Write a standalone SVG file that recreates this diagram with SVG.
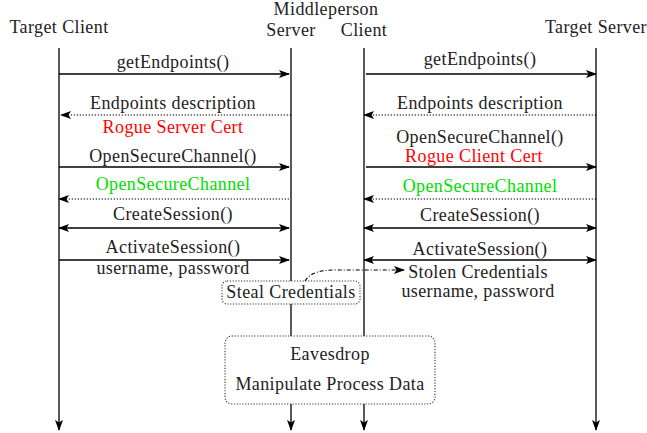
<svg xmlns="http://www.w3.org/2000/svg" width="647" height="433" viewBox="0 0 647 433" font-family="Liberation Serif, Times New Roman, serif">
<defs>
<style>
text{font-size:18px;letter-spacing:0.4px;fill:#222;text-anchor:middle}
.red{fill:#ff0000}
.green{fill:#00dd00}
.ln{stroke:#000;stroke-width:1.3;fill:none}
.dot{stroke:#000;stroke-width:1.2;fill:none;stroke-dasharray:1.3,1.7}
.box{stroke:#333;stroke-width:1.1;fill:#fff;stroke-dasharray:1.2,1.6}
.dd{stroke:#000;stroke-width:1.1;fill:none;stroke-dasharray:4,2,1,2}
</style>
<marker id="ah" markerUnits="userSpaceOnUse" markerWidth="12" markerHeight="10" refX="10" refY="4" orient="auto-start-reverse" viewBox="0 0 12 10">
<path d="M0,0 L11,4 L0,8 L2.5,4 z" fill="#000"/>
</marker>
</defs>

<g id="lifelines">
<g id="target-client">
<text x="59" y="33">Target Client</text>
<line class="ln" x1="59" y1="48" x2="59" y2="430" marker-end="url(#ah)"/>
</g>
<g id="middleperson">
<text x="326" y="15">Middleperson</text>
<text x="291" y="36">Server</text>
<text x="364" y="36">Client</text>
<line class="ln" x1="291" y1="48" x2="291" y2="281"/>
<line class="ln" x1="291" y1="304" x2="291" y2="336"/>
<line class="ln" x1="291" y1="404" x2="291" y2="430" marker-end="url(#ah)"/>
<line class="ln" x1="364" y1="48" x2="364" y2="336"/>
<line class="ln" x1="364" y1="404" x2="364" y2="430" marker-end="url(#ah)"/>
</g>
<g id="target-server">
<text x="596" y="33">Target Server</text>
<line class="ln" x1="596" y1="48" x2="596" y2="430" marker-end="url(#ah)"/>
</g>
</g>

<g id="connectors">
<line class="ln" x1="59" y1="74" x2="289" y2="74" marker-end="url(#ah)"/>
<line class="dot" x1="291" y1="115" x2="61" y2="115" marker-end="url(#ah)"/>
<line class="ln" x1="59" y1="167" x2="289" y2="167" marker-end="url(#ah)"/>
<line class="dot" x1="289" y1="199" x2="59" y2="199" marker-end="url(#ah)"/>
<line class="ln" x1="59" y1="228" x2="289" y2="228" marker-start="url(#ah)" marker-end="url(#ah)"/>
<line class="ln" x1="59" y1="260" x2="289" y2="260" marker-end="url(#ah)"/>

<line class="ln" x1="366" y1="74" x2="596" y2="74" marker-end="url(#ah)"/>
<line class="dot" x1="596" y1="115" x2="364" y2="115" marker-end="url(#ah)"/>
<line class="ln" x1="366" y1="167" x2="596" y2="167" marker-end="url(#ah)"/>
<line class="dot" x1="596" y1="199" x2="364" y2="199" marker-end="url(#ah)"/>
<line class="ln" x1="364" y1="228" x2="596" y2="228" marker-start="url(#ah)" marker-end="url(#ah)"/>
<line class="ln" x1="364" y1="260" x2="596" y2="260" marker-start="url(#ah)" marker-end="url(#ah)"/>

<path class="dd" d="M305,281 C310,273 320,270 336,270 L404,270" marker-end="url(#ah)"/>
</g>

<g id="labels-left">
<text x="173" y="68">getEndpoints()</text>
<text x="173" y="109">Endpoints description</text>
<text class="red" x="173" y="133">Rogue Server Cert</text>
<text x="173" y="162">OpenSecureChannel()</text>
<text class="green" x="173" y="190">OpenSecureChannel</text>
<text x="173" y="220">CreateSession()</text>
<text x="173" y="253">ActivateSession()</text>
<text x="173" y="274">username, password</text>
</g>

<g id="labels-right">
<text x="480" y="65">getEndpoints()</text>
<text x="480" y="109">Endpoints description</text>
<text x="480" y="143">OpenSecureChannel()</text>
<text class="red" x="474" y="162">Rogue Client Cert</text>
<text class="green" x="480" y="192">OpenSecureChannel</text>
<text x="480" y="221">CreateSession()</text>
<text x="480" y="255">ActivateSession()</text>
<text x="478" y="278">Stolen Credentials</text>
<text x="478" y="297">username, password</text>
</g>

<g id="steal-credentials">
<rect class="box" x="222" y="281" width="138" height="23" rx="5"/>
<text x="291" y="298">Steal Credentials</text>
</g>

<g id="eavesdrop">
<rect class="box" x="225" y="336" width="210" height="68" rx="7"/>
<text x="330" y="360">Eavesdrop</text>
<text x="330" y="390">Manipulate Process Data</text>
</g>
</svg>
